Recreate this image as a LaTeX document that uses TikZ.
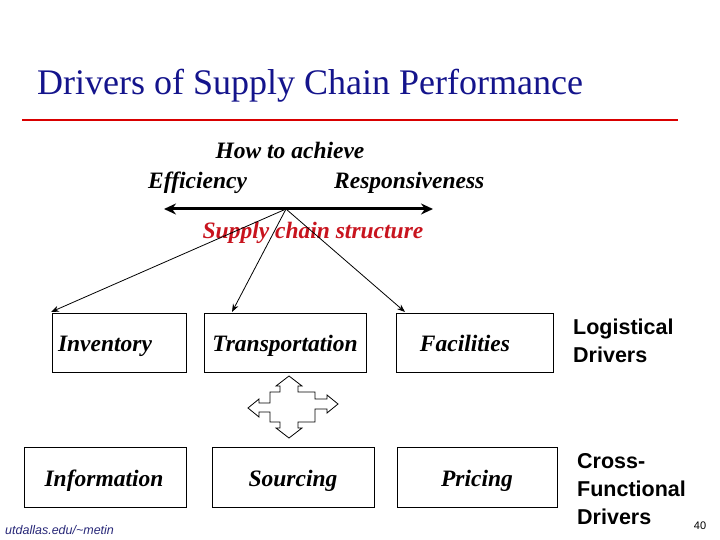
\documentclass[tikz,border=0pt]{standalone}
\usepackage{fontspec}
\setmainfont{Liberation Serif}
\newfontfamily\sansf{Liberation Sans}
\usetikzlibrary{arrows.meta}
\begin{document}
\begin{tikzpicture}[x=1pt,y=-1pt,
  box/.style={draw,line width=0.6pt},
  lbl/.style={font=\fontsize{23.5}{27}\selectfont\bfseries\itshape,inner sep=0},
  blbl/.style={lbl,anchor=base},
  side/.style={font=\sansf\fontsize{21.5}{28}\selectfont\bfseries,align=left,anchor=base west,inner sep=0},
  arr/.style={-{Stealth[length=8pt,width=6pt]},line width=0.8pt}]
\useasboundingbox (0,0) rectangle (720,540);
\node[anchor=base west,font=\fontsize{36}{40}\selectfont,text={rgb,255:red,20;green,20;blue,140},inner sep=0] (title) at (37,95) {Drivers of Supply Chain Performance};
\draw[red!85!black,line width=1.2pt] (22,120) -- (678,120);
\node[lbl,anchor=base] (how) at (290,159) {How to achieve};
\node[lbl,anchor=base west] (eff) at (148,189) {Efficiency};
\node[lbl,anchor=base west] (resp) at (334,189) {Responsiveness};
\coordinate (L) at (164,209);
\coordinate (R) at (433,209);
\coordinate (apex) at (286,209);
\draw[line width=3pt,-{Stealth[length=12pt,width=11pt]}] (apex) -- (R);
\draw[line width=3pt,-{Stealth[length=12pt,width=11pt]}] (apex) -- (L);
\node[lbl,text={rgb,255:red,200;green,20;blue,30},anchor=base] (scs) at (313,239) {Supply chain structure};
\draw[box] (52,313) rectangle (186,372);
\draw[box] (204,313) rectangle (366,372);
\draw[box] (396,313) rectangle (553,372);
\draw[box] (24,447) rectangle (186,507);
\draw[box] (212,447) rectangle (374,507);
\draw[box] (397,447) rectangle (557,507);
\node[blbl] (inv) at (105,351) {Inventory};
\node[blbl] (tra) at (285,351) {Transportation};
\node[blbl] (fac) at (465,351) {Facilities};
\node[blbl] (inf) at (104,486) {Information};
\node[blbl] (sou) at (293,486) {Sourcing};
\node[blbl] (pri) at (477,486) {Pricing};
\coordinate (t1) at (51,312);
\coordinate (t2) at (232,312);
\coordinate (t3) at (405,312);
\draw[arr] (apex) -- (t1);
\draw[arr] (apex) -- (t2);
\draw[arr] (apex) -- (t3);
% four-way arrow
\draw[line width=0.8pt,fill=white] (280,392) -- (280,386) -- (276,386) -- (289,376) -- (302,386) -- (298,386) -- (298,392)
 -- (315,392) -- (315,399) -- (327,399) -- (327,395) -- (338,404) -- (327,413) -- (327,409) -- (315,409)
 -- (315,422) -- (298,422) -- (298,428) -- (302,428) -- (289,438) -- (276,428) -- (280,428) -- (280,422)
 -- (270,422) -- (270,412) -- (259,412) -- (259,417) -- (248,408) -- (259,399) -- (259,403) -- (270,403) -- (270,392) -- cycle;
\node[side] (log) at (573,362) {Logistical\\Drivers};
\node[side] (cf) at (577,524) {Cross-\\Functional\\Drivers};
\node[anchor=base,font=\sansf\fontsize{11}{12}\selectfont,inner sep=0] (pg) at (700,529) {40};
\node[anchor=base west,font=\sansf\itshape\fontsize{12.5}{14}\selectfont,text={rgb,255:red,40;green,40;blue,120},inner sep=0] (url) at (5,534) {utdallas.edu/\textasciitilde metin};
\end{tikzpicture}
\end{document}
